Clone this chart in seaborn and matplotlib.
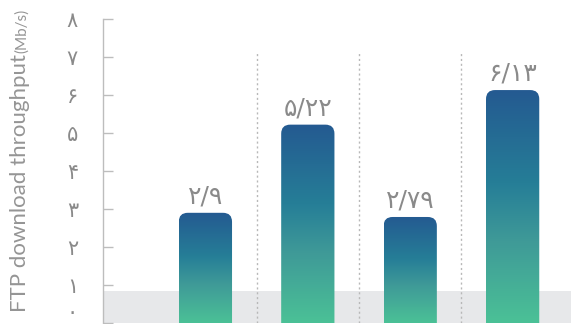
import numpy as np
import pandas as pd
import matplotlib
matplotlib.use('Agg')
import matplotlib.pyplot as plt
import seaborn as sns
from matplotlib.colors import LinearSegmentedColormap
from matplotlib.patches import FancyBboxPatch

categories = ['test 1', 'test 2', 'test 3', 'test 4']
throughput = [2.9, 5.22, 2.79, 6.13]
value_labels = ['۲/۹', '۵/۲۲', '۲/۷۹', '۶/۱۳']
ytick_values = [0, 1, 2, 3, 4, 5, 6, 7, 8]
ytick_labels = ['۰', '۱', '۲', '۳', '۴', '۵', '۶', '۷', '۸']

sns.set_theme(style='white')
plt.rcParams['font.family'] = ['DejaVu Sans']

gray_text = '#8a8a8a'
axis_gray = '#bdbdbd'
bar_cmap = LinearSegmentedColormap.from_list(
    'bar', [(0.0, '#4bc196'), (0.35, '#3f9a98'), (0.6, '#267e97'), (1.0, '#245a91')])

df = pd.DataFrame({'category': categories, 'throughput': throughput})

fig = plt.figure(figsize=(5.71, 3.24), dpi=100)
ax = fig.add_axes([103 / 571, 1 / 324, 1 - 103 / 571, 304 / 324])
sns.barplot(data=df, x='category', y='throughput', width=0.52,
            color='#245a91', ax=ax)

# grey band near the bottom and dotted separators
ax.axhspan(0, 0.85, color='#e7e8ea', zorder=0, lw=0)
ax.vlines([0.5, 1.5, 2.5], 0, 7.1, colors='#b8b8b8',
          linestyles=(0, (1.5, 2)), linewidth=1, zorder=1)

# replace flat bars with gradient bars with rounded tops
rx, ry = 9 / 102.5, 9 / 38
grad = np.linspace(0, 1, 256).reshape(-1, 1)
for p, lab in zip(list(ax.patches), value_labels):
    x0, w, h = p.get_x(), p.get_width(), p.get_height()
    p.set_visible(False)
    clip = FancyBboxPatch((x0, -1), w, h + 1,
                          boxstyle=f'round,pad=0,rounding_size={rx}',
                          mutation_aspect=ry / rx, transform=ax.transData,
                          facecolor='none', edgecolor='none')
    ax.add_patch(clip)
    im = ax.imshow(grad, extent=[x0, x0 + w, 0, h], cmap=bar_cmap,
                   aspect='auto', origin='lower', zorder=2)
    im.set_clip_path(clip)
    ax.text(x0 + w / 2, h + 0.24, lab, ha='center', va='baseline',
            fontsize=18, color=gray_text, zorder=3)

ax.set(xlim=(-1, 3.57), ylim=(0, 8), xlabel='', ylabel='')
ax.set_xticks([])
ax.set_yticks(ytick_values, ytick_labels)
ax.tick_params(axis='y', direction='in', length=7, width=1, color=axis_gray,
               labelcolor=gray_text, labelsize=15, pad=18, left=True)
for s in ['top', 'right', 'bottom']:
    ax.spines[s].set_visible(False)
ax.spines['left'].set_color(axis_gray)
ax.spines['left'].set_linewidth(1)

# keep the zero label inside the figure
ax.yaxis.get_major_ticks()[0].label1.set_verticalalignment('bottom')

# y label with smaller unit
main = fig.text(26.5 / 571, 12 / 324, 'FTP download throughput',
                rotation=90, rotation_mode='anchor', ha='left', va='baseline',
                fontsize=16, color='#959595', family=['Lato', 'DejaVu Sans'])
fig.canvas.draw()
bb = main.get_window_extent()
fig.text(26.5 / 571, (bb.y1 + 1) / 324, '(Mb/s)',
         rotation=90, rotation_mode='anchor', ha='left', va='baseline',
         fontsize=11, color='#959595', family=['Lato', 'DejaVu Sans'])

fig.savefig('out.png', dpi=100)
